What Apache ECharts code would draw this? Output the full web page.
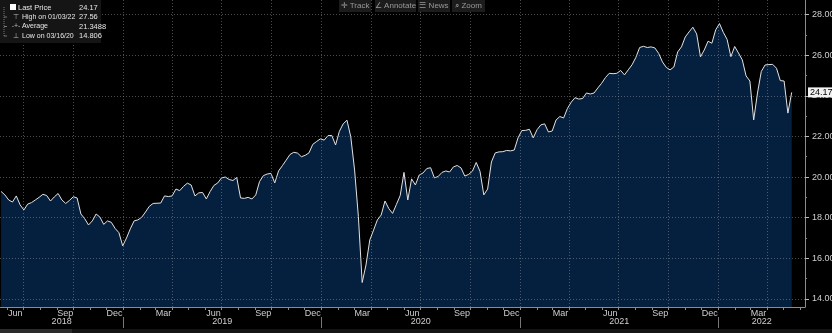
<!DOCTYPE html>
<html><head><meta charset="utf-8">
<script src="https://cdn.jsdelivr.net/npm/echarts@6/dist/echarts.min.js"></script>
<style>html,body{margin:0;padding:0;background:#000;}#c{width:832px;height:333px;}</style>
</head><body><div id="c"></div>
<script>
// ---- data (weekly closes, Mondays, starting 2018-05-21) ----
const firstWeek = [2018, 4, 21];
const prices = [
19.29,19.12,18.87,18.77,19.07,18.63,18.38,18.67,18.74,18.87,
19.00,19.15,19.09,18.82,19.02,19.19,18.87,18.70,18.85,19.03,
18.97,18.18,17.95,17.64,17.84,18.18,18.03,17.67,17.84,17.77,
17.47,17.26,16.61,17.00,17.45,17.84,17.89,18.02,18.28,18.56,
18.70,18.71,18.72,19.07,19.04,19.07,19.41,19.33,19.54,19.70,
19.61,19.07,19.22,19.24,18.92,19.29,19.59,19.71,19.96,20.00,
19.88,19.83,19.98,18.97,18.95,19.00,18.92,19.12,19.78,20.07,
20.15,20.18,19.71,20.30,20.56,20.83,21.11,21.22,21.18,21.00,
21.07,21.19,21.61,21.75,21.88,21.82,22.04,22.05,21.58,22.25,
22.62,22.80,21.98,20.35,18.05,14.806,15.67,16.90,17.39,17.89,
18.13,18.82,18.45,18.21,18.65,19.09,20.23,18.87,19.91,19.61,
20.10,20.20,20.42,20.46,19.96,20.03,20.23,20.30,20.25,20.50,
20.57,20.45,20.05,20.13,20.29,20.72,20.28,19.12,19.41,20.74,
21.19,21.24,21.25,21.31,21.29,21.33,21.93,22.29,22.30,22.35,
21.93,22.33,22.57,22.62,22.22,22.27,22.81,22.98,22.91,23.38,
23.69,23.91,23.84,23.87,24.14,24.09,24.14,24.39,24.62,24.90,
25.11,25.09,25.11,25.25,25.03,25.28,25.53,25.89,26.38,26.44,
26.38,26.41,26.36,26.09,25.67,25.40,25.28,25.42,26.16,26.41,
26.90,27.15,27.38,27.05,25.92,26.26,26.69,26.59,27.25,27.56,
27.13,26.78,25.93,26.43,26.11,25.77,24.98,24.73,22.81,24.14,
25.20,25.52,25.54,25.55,25.36,24.75,24.73,23.15,24.17
];
const yTicks = [14, 16, 18, 20, 22, 24, 26, 28];
const yMinorTicks = [15, 17, 19, 21, 23, 25, 27];
const averageText = '21.3488';
const monthNames = ['Jan','Feb','Mar','Apr','May','Jun','Jul','Aug','Sep','Oct','Nov','Dec'];
const labelMonths = [2, 5, 8, 11];       // Mar Jun Sep Dec
const gridMonths = [0, 3, 6, 9];         // quarter starts
const years = [2018, 2019, 2020, 2021, 2022];
const toolbarItems = ['\u271B Track', '\u2220 Annotate', '\u2630 News', '\u2315 Zoom'];

// ---- derived ----
const dates = prices.map((_, k) => new Date(firstWeek[0], firstWeek[1], firstWeek[2] + 7 * k).getTime());
const xMin = new Date(2018, 4, 19).getTime();
const xMax = new Date(2022, 5, 9, 12).getTime();
const lastPrice = prices[prices.length - 1];
let hiI = 0, loI = 0;
prices.forEach((v, i) => { if (v > prices[hiI]) hiI = i; if (v < prices[loI]) loI = i; });
const fmtD = t => { const d = new Date(t); return String(d.getMonth()+1).padStart(2,'0') + '/' + String(d.getDate()).padStart(2,'0') + '/' + String(d.getFullYear()).slice(2); };

const monthStarts = [], quarterStarts = [], midMonths = [], yearStarts = [], yearMids = [];
years.forEach(y => {
  for (let m = 0; m < 12; m++) {
    const t = new Date(y, m, 1).getTime();
    if (t >= xMin && t <= xMax) {
      monthStarts.push(t);
      if (gridMonths.includes(m)) quarterStarts.push(t);
      if (m === 0) yearStarts.push(t);
    }
    if (labelMonths.includes(m)) {
      const mid = new Date(y, m, 16).getTime();
      if (mid > xMin && mid < xMax) midMonths.push(mid);
    }
  }
  const a = Math.max(xMin, new Date(y, 0, 1).getTime());
  const b = Math.min(xMax, new Date(y + 1, 0, 1).getTime());
  yearMids.push((a + b) / 2);
});

const FONT = 'Liberation Sans, Arial, sans-serif';
const axisGray = '#8c8c8c';
const labelGray = '#cfcfcf';
const dotted = { type: [1, 2], color: 'rgba(150,150,150,0.5)', width: 1 };

const legendRows = [
  { sym: '', label: 'Last Price', val: lastPrice.toFixed(2) },
  { sym: '\u22A4', label: 'High on ' + fmtD(dates[hiI]), val: String(prices[hiI]) },
  { sym: '-+-', label: 'Average', val: averageText },
  { sym: '\u22A5', label: 'Low on ' + fmtD(dates[loI]), val: String(prices[loI]) }
];

const LF = '7px ' + FONT;
const graphic = [
  { type: 'rect', shape: { x: 0, y: 0, width: 101, height: 43 }, style: { fill: '#151515' }, z: 10 },
  { type: 'line', shape: { x1: 4, y1: 7, x2: 4, y2: 36 }, style: { stroke: '#777', lineWidth: 1, lineDash: [1, 1] }, z: 11 },
  { type: 'rect', shape: { x: 10, y: 4, width: 6, height: 6 }, style: { fill: '#ffffff' }, z: 11 }
];
legendRows.forEach((r, i) => {
  const y = 7.5 + i * 9.5;
  if (i > 0) graphic.push({ type: 'line', shape: { x1: 4, y1: y, x2: 7, y2: y }, style: { stroke: '#777', lineWidth: 1 }, z: 11 });
  if (r.sym) graphic.push({ type: 'text', style: { text: r.sym, x: 16, y: y, fill: '#bbb', font: LF, align: 'center', verticalAlign: 'middle', textAlign: 'center', textVerticalAlign: 'middle' }, z: 11 });
  graphic.push({ type: 'text', style: { text: r.label, x: i === 0 ? 18 : 22, y: y, fill: '#e6e6e6', font: (i === 0 ? '7.5px ' + FONT : LF), verticalAlign: 'middle', textVerticalAlign: 'middle' }, z: 11 });
  graphic.push({ type: 'text', style: { text: r.val, x: 79, y: y, fill: '#e6e6e6', font: '7.5px ' + FONT, verticalAlign: 'middle', textVerticalAlign: 'middle' }, z: 11 });
});
const tbX = [339, 375, 418, 452], tbW = [32, 41, 32, 33];
toolbarItems.forEach((t, i) => {
  graphic.push({ type: 'rect', shape: { x: tbX[i], y: 0, width: tbW[i], height: 12 }, style: { fill: '#1c1c1c' }, z: 10 });
  graphic.push({ type: 'text', style: { text: t, x: tbX[i] + tbW[i] / 2, y: 6, fill: '#9a9a9a', font: '8px ' + FONT, align: 'center', verticalAlign: 'middle', textAlign: 'center', textVerticalAlign: 'middle' }, z: 11 });
});
graphic.push({ type: 'rect', shape: { x: 0, y: 329, width: 832, height: 4 }, style: { fill: '#141414' }, z: 1 });
graphic.push({ type: 'rect', shape: { x: 0, y: 329, width: 72, height: 4 }, style: { fill: '#2a2a2a' }, z: 1 });

const chart = echarts.init(document.getElementById('c'), null, { renderer: 'canvas' });
chart.setOption({
  backgroundColor: '#000',
  animation: false,
  textStyle: { fontFamily: FONT },
  grid: { left: 0, right: 27, top: 0, bottom: 26, containLabel: false, outerBoundsMode: 'none' },
  xAxis: [
    { type: 'value', min: xMin, max: xMax, position: 'bottom', z: 3,
      axisLine: { show: true, lineStyle: { color: axisGray } },
      axisTick: { show: false, customValues: quarterStarts },
      axisLabel: { show: false },
      splitLine: { show: true, lineStyle: dotted } },
    { type: 'value', min: xMin, max: xMax, position: 'bottom',
      axisLine: { show: false },
      axisTick: { show: true, customValues: monthStarts, length: 3, lineStyle: { color: axisGray } },
      axisLabel: { show: true, customValues: midMonths, margin: 2, color: labelGray, fontSize: 9, fontFamily: FONT,
        formatter: v => monthNames[new Date(v).getMonth()] },
      splitLine: { show: false } },
    { type: 'value', min: xMin, max: xMax, position: 'bottom', offset: 10,
      axisLine: { show: false },
      axisTick: { show: true, customValues: yearStarts, length: 11, lineStyle: { color: '#777' } },
      axisLabel: { show: true, customValues: yearMids, margin: 0, color: labelGray, fontSize: 9, fontFamily: FONT,
        formatter: v => String(new Date(v).getFullYear()) },
      splitLine: { show: false } }
  ],
  yAxis: [
    { type: 'value', min: 13.6, max: 28.72, position: 'right', z: 3,
      axisLine: { show: true, lineStyle: { color: axisGray } },
      axisTick: { show: true, customValues: yTicks, length: 4, lineStyle: { color: '#bbb' } },
      axisLabel: { show: true, customValues: yTicks, margin: 7, color: labelGray, fontSize: 9, fontFamily: FONT,
        formatter: v => v.toFixed(2) },
      splitLine: { show: true, lineStyle: dotted } },
    { type: 'value', min: 13.6, max: 28.72, position: 'right', z: 5,
      axisLine: { show: false },
      axisTick: { show: true, customValues: yMinorTicks, length: 2, lineStyle: { color: '#888' } },
      axisLabel: { show: true, customValues: [lastPrice], margin: 3, color: '#000', fontSize: 9, fontFamily: FONT,
        backgroundColor: '#f2f2f2', padding: [1, 2, 0, 2], formatter: v => lastPrice.toFixed(2) },
      splitLine: { show: false } }
  ],
  series: [{
    type: 'line', xAxisIndex: 0, yAxisIndex: 0,
    data: dates.map((d, i) => [d, prices[i]]),
    showSymbol: false, symbol: 'none',
    lineStyle: { color: '#e2e2e2', width: 1 },
    areaStyle: { color: '#05203e', opacity: 1, origin: 'start' },
    z: 2
  }],
  graphic: graphic
});
</script></body></html>
